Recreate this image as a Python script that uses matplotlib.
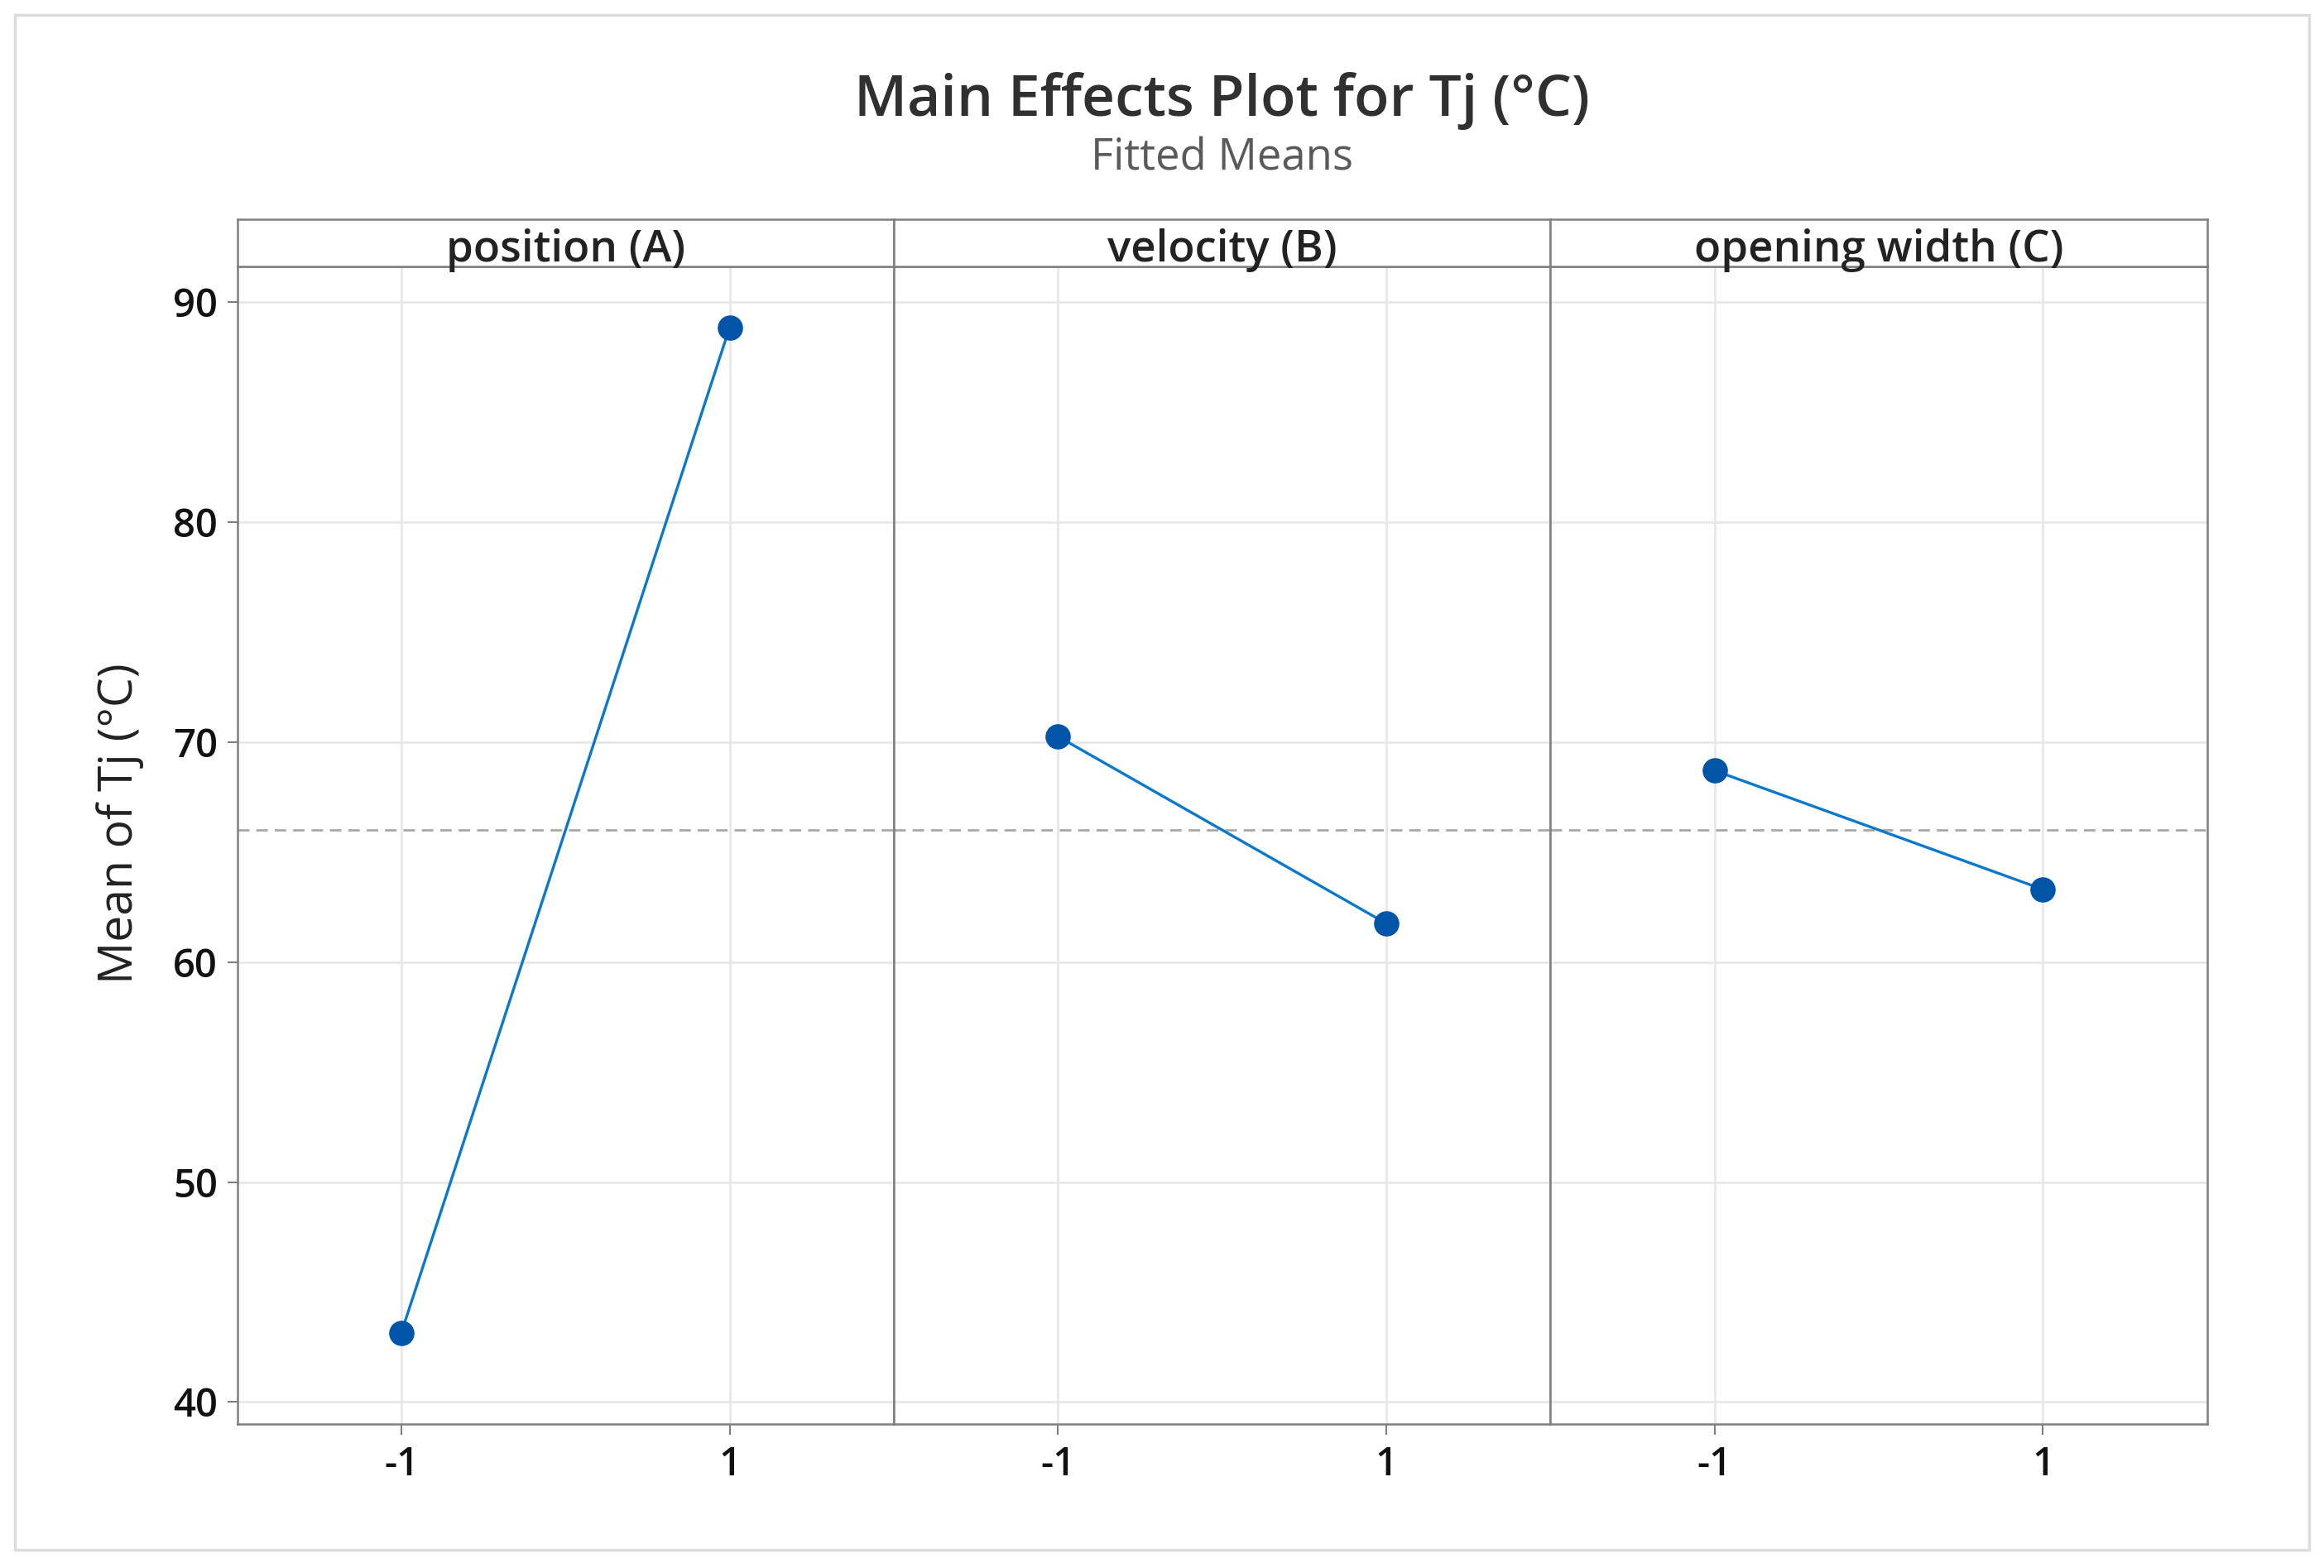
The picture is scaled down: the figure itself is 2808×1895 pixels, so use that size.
import matplotlib
matplotlib.use("Agg")
import matplotlib.pyplot as plt
from matplotlib.patches import Rectangle

# data
factors = ["position (A)", "velocity (B)", "opening width (C)"]
levels = [-1, 1]
means_A = [43.15, 88.85]
means_B = [70.25, 61.75]
means_C = [68.7, 63.3]
grand_mean = 66.0
yticks = [40, 50, 60, 70, 80, 90]

plt.rcParams['font.family'] = ['Open Sans', 'DejaVu Sans']

W, H = 2808, 1895
fig = plt.figure(figsize=(W / 100, H / 100), dpi=100)

# light frame round the whole chart
fig.patches.append(Rectangle((18 / W, 22 / H), (2790 - 18) / W, (1873 - 18) / H,
                             transform=fig.transFigure, fill=False,
                             edgecolor="#dcdcdc", linewidth=2.5))

left = 286.6 / W
pw = (2666.8 - 286.6) / 3 / W
bottom = 174 / H
ph = (1572.6 - 174) / H
strip_h = (1630 - 1572.6) / H
xc = left + 1.5 * pw

fig.text(xc, 1 - 140 / H, "Main Effects Plot for Tj (°C)", ha="center", va="baseline",
         fontsize=50, fontweight="semibold", color="#303030")
fig.text(xc, 1 - 206 / H, "Fitted Means", ha="center", va="baseline",
         fontsize=38, color="#5a5a5a")

spine_c = "#7f7f7f"
all_means = [means_A, means_B, means_C]

for i, (name, vals) in enumerate(zip(factors, all_means)):
    ax = fig.add_axes([left + i * pw, bottom, pw, ph])
    ax.set_xlim(-2, 2)
    ax.set_ylim(39.0, 91.6)
    ax.set_xticks(levels)
    ax.set_xticklabels([str(v) for v in levels])
    ax.set_yticks(yticks)
    ax.grid(True, color="#e8e8e8", linewidth=2)
    ax.set_axisbelow(True)
    ax.axhline(grand_mean, color="#a8a8a8", linestyle=(0, (5, 3)), linewidth=2, zorder=1)
    ax.plot(levels, vals, color="#0a78cc", linewidth=2.4, zorder=2)
    ax.plot(levels, vals, "o", color="#0055a8", markersize=21, zorder=3)
    for s in ax.spines.values():
        s.set_color(spine_c)
        s.set_linewidth(1.8)
    ax.tick_params(axis="both", colors=spine_c, length=9, width=1.5,
                   labelsize=34, labelcolor="#111111")
    for lab in ax.get_xticklabels() + ax.get_yticklabels():
        lab.set_fontweight("semibold")
    ax.tick_params(axis="x", pad=10)
    ax.tick_params(axis="y", pad=8)
    if i > 0:
        ax.tick_params(axis="y", left=False, labelleft=False)
    else:
        ax.set_ylabel("Mean of Tj (°C)", fontsize=41, color="#222222", va="center")
        ax.yaxis.set_label_coords((145 - 286.6) / (pw * W), 0.519)

    # strip header
    sx = fig.add_axes([left + i * pw, bottom + ph, pw, strip_h])
    sx.set_xticks([])
    sx.set_yticks([])
    for s in sx.spines.values():
        s.set_color(spine_c)
        s.set_linewidth(1.8)
    sx.text(0.5, 0.12, name, ha="center", va="baseline", fontsize=38,
            fontweight="semibold", color="#222222", transform=sx.transAxes)

fig.savefig("out.png", dpi=100)
